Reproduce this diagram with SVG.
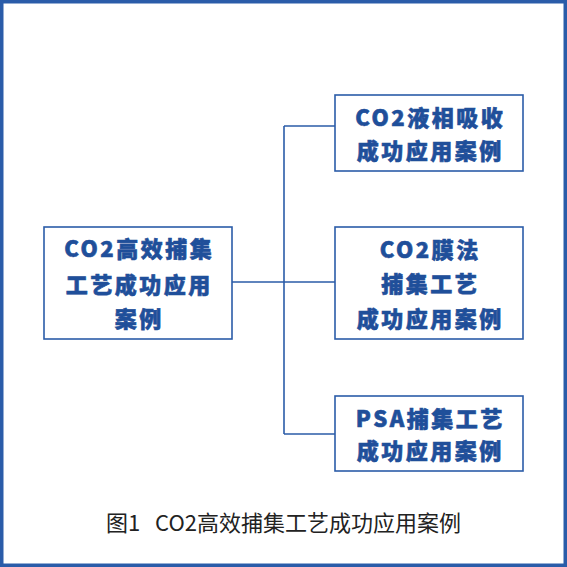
<svg xmlns="http://www.w3.org/2000/svg" width="567" height="567" viewBox="0 0 567 567">
<style>
.box{fill:#fff;stroke:#2b5ca8;stroke-width:1.6}
.t{font-family:"Noto Sans CJK SC","Noto Sans",sans-serif;font-weight:900;font-size:22px;fill:#1f4f9a;stroke:#1f4f9a;stroke-width:0.6;text-anchor:middle;letter-spacing:2.5px}
.c{font-family:"Noto Sans CJK SC","Noto Sans",sans-serif;font-size:22px;fill:#222;text-anchor:middle;white-space:pre}
.ln{fill:none;stroke:#2b5ca8;stroke-width:1.6}
</style>
<rect x="0" y="0" width="567" height="567" fill="#fff"/>
<rect x="1.75" y="1.75" width="563.5" height="563.5" fill="none" stroke="#2a5ca9" stroke-width="3.5"/>
<g id="connectors">
<path class="ln" d="M232 282 H284 M284 126 V434 M284 126 H335 M284 282 H335 M284 434 H335"/>
</g>
<g id="node-main">
<rect class="box" x="44" y="227" width="188" height="112"/>
<text class="t" x="139.25" y="257">CO2高效捕集</text>
<text class="t" x="139.25" y="292.5">工艺成功应用</text>
<text class="t" x="139.25" y="326.5">案例</text>
</g>
<g id="node-liquid">
<rect class="box" x="335" y="95" width="188" height="76"/>
<text class="t" x="430.25" y="126">CO2液相吸收</text>
<text class="t" x="430.25" y="159">成功应用案例</text>
</g>
<g id="node-membrane">
<rect class="box" x="335" y="227" width="188" height="112"/>
<text class="t" x="430.25" y="258">CO2膜法</text>
<text class="t" x="430.25" y="291.5">捕集工艺</text>
<text class="t" x="430.25" y="326.5">成功应用案例</text>
</g>
<g id="node-psa">
<rect class="box" x="335" y="396" width="188" height="75"/>
<text class="t" x="430.25" y="427">PSA捕集工艺</text>
<text class="t" x="430.25" y="459">成功应用案例</text>
</g>
<text class="c" x="283.5" y="531" xml:space="preserve">图1   CO2高效捕集工艺成功应用案例</text>
</svg>
